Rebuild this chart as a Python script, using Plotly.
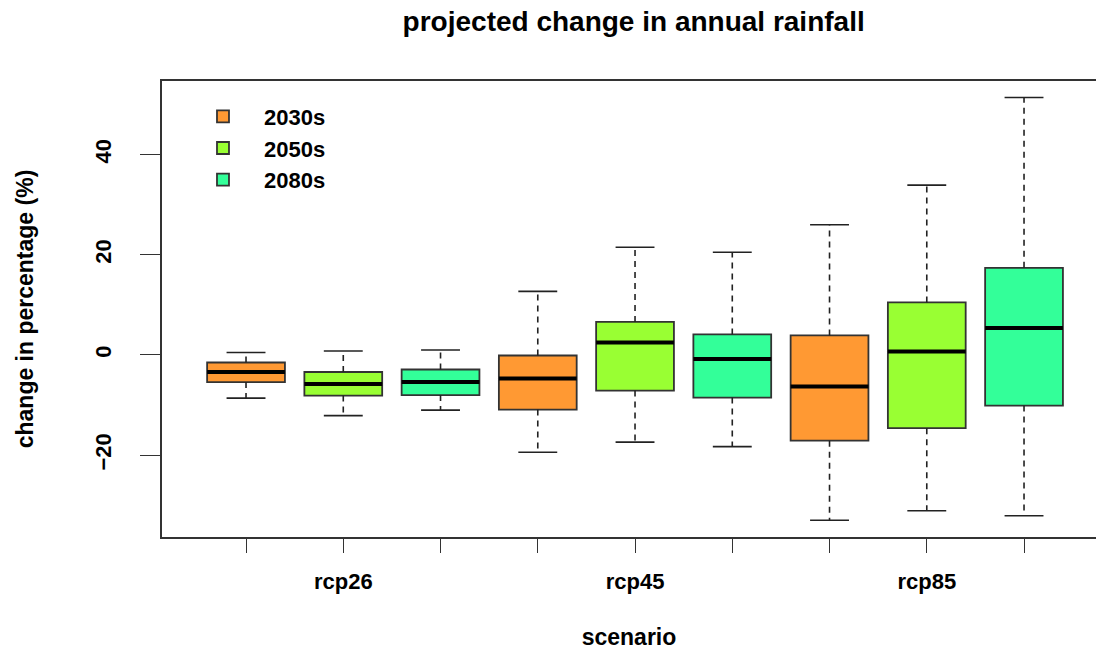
import plotly.graph_objects as go

scenarios = ["rcp26", "rcp45", "rcp85"]
periods = ["2030s", "2050s", "2080s"]
colors = ["#FF9933", "#99FF33", "#33FF99"]

# values per period, in scenario order rcp26, rcp45, rcp85
lower = {"2030s": [-8.6, -19.4, -33.0], "2050s": [-12.1, -17.4, -31.1], "2080s": [-11.0, -18.3, -32.1]}
q1 = {"2030s": [-5.4, -10.9, -17.1], "2050s": [-8.1, -7.1, -14.6], "2080s": [-8.0, -8.5, -10.1]}
median = {"2030s": [-3.4, -4.7, -6.3], "2050s": [-5.8, 2.5, 0.7], "2080s": [-5.4, -0.8, 5.4]}
q3 = {"2030s": [-1.5, -0.1, 3.9], "2050s": [-3.4, 6.6, 10.5], "2080s": [-2.9, 4.1, 17.4]}
upper = {"2030s": [0.5, 12.7, 26.0], "2050s": [0.8, 21.5, 33.9], "2080s": [1.0, 20.5, 51.4]}

BOXW = 0.8
CAPW = 0.4
font_family = "Liberation Sans, Arial, sans-serif"

fig = go.Figure()
for p_i, per in enumerate(periods):
    pos = [3 * g + p_i + 1 for g in range(len(scenarios))]
    wx, wy = [], []
    cx, cy = [], []
    mx, my = [], []
    for k, x in enumerate(pos):
        wx += [x, x, None, x, x, None]
        wy += [q3[per][k], upper[per][k], None, q1[per][k], lower[per][k], None]
        cx += [x - CAPW / 2, x + CAPW / 2, None, x - CAPW / 2, x + CAPW / 2, None]
        cy += [upper[per][k], upper[per][k], None, lower[per][k], lower[per][k], None]
        mx += [x - BOXW / 2, x + BOXW / 2, None]
        my += [median[per][k], median[per][k], None]
    fig.add_trace(go.Scatter(x=wx, y=wy, mode="lines", showlegend=False, hoverinfo="skip",
                             line=dict(color="#222222", width=1.6, dash="6px,5px")))
    fig.add_trace(go.Scatter(x=cx, y=cy, mode="lines", showlegend=False, hoverinfo="skip",
                             line=dict(color="#222222", width=1.6)))
    fig.add_trace(go.Box(
        name=per, x=pos, q1=q1[per], median=median[per], q3=q3[per],
        lowerfence=q1[per], upperfence=q3[per],
        fillcolor=colors[p_i], line=dict(color="#333333", width=1.8),
        width=BOXW, whiskerwidth=0, boxpoints=False, showlegend=True,
    ))
    fig.add_trace(go.Scatter(x=mx, y=my, mode="lines", showlegend=False, hoverinfo="skip",
                             line=dict(color="#000000", width=4)))

tickvals = list(range(1, 10))
ticktext = []
for g, s in enumerate(scenarios):
    ticktext += ["", s, ""]

fig.update_layout(
    width=1096, height=653,
    margin=dict(l=162, r=0, t=81, b=116, autoexpand=False),
    paper_bgcolor="white", plot_bgcolor="white",
    font=dict(family=font_family, color="black"),
    title=dict(text="<b>projected change in annual rainfall</b>", font=dict(size=28, color="black"),
               x=0.505, xref="paper", xanchor="center", y=1 - 21 / 653, yref="container", yanchor="middle",
               automargin=False),
    legend=dict(x=0.0214, y=0.968, xanchor="left", yanchor="top", bgcolor="rgba(0,0,0,0)",
                font=dict(size=22, color="black", weight="bold"), tracegroupgap=0, itemwidth=72),
    xaxis=dict(range=[0.136, 9.74], tickmode="array", tickvals=tickvals, ticktext=ticktext,
               ticks="outside", ticklen=14, tickwidth=1.3, tickcolor="#333333",
               showline=True, mirror=True, linecolor="#333333", linewidth=1.6,
               showgrid=False, zeroline=False, ticklabelstandoff=10, automargin=False,
               tickfont=dict(size=22, color="black", weight="bold"),
               title=dict(text="<b>scenario</b>", font=dict(size=23, color="black"), standoff=36)),
    yaxis=dict(range=[-36.33, 54.69], tickmode="array", tickvals=[-20, 0, 20, 40],
               ticks="outside", ticklen=20, tickwidth=1.3, tickcolor="#333333", tickangle=-90,
               showline=True, mirror=False, linecolor="#333333", linewidth=1.6,
               showgrid=False, zeroline=False, ticklabelstandoff=20, automargin=False,
               tickfont=dict(size=22, color="black", weight="bold"),
               title=dict(text="<b>change in percentage (%)</b>", font=dict(size=23, color="black"), standoff=51)),
)

fig.write_html("out.html", config={"displayModeBar": False},
               post_script="document.body.style.margin='0';document.body.style.overflow='hidden';")
